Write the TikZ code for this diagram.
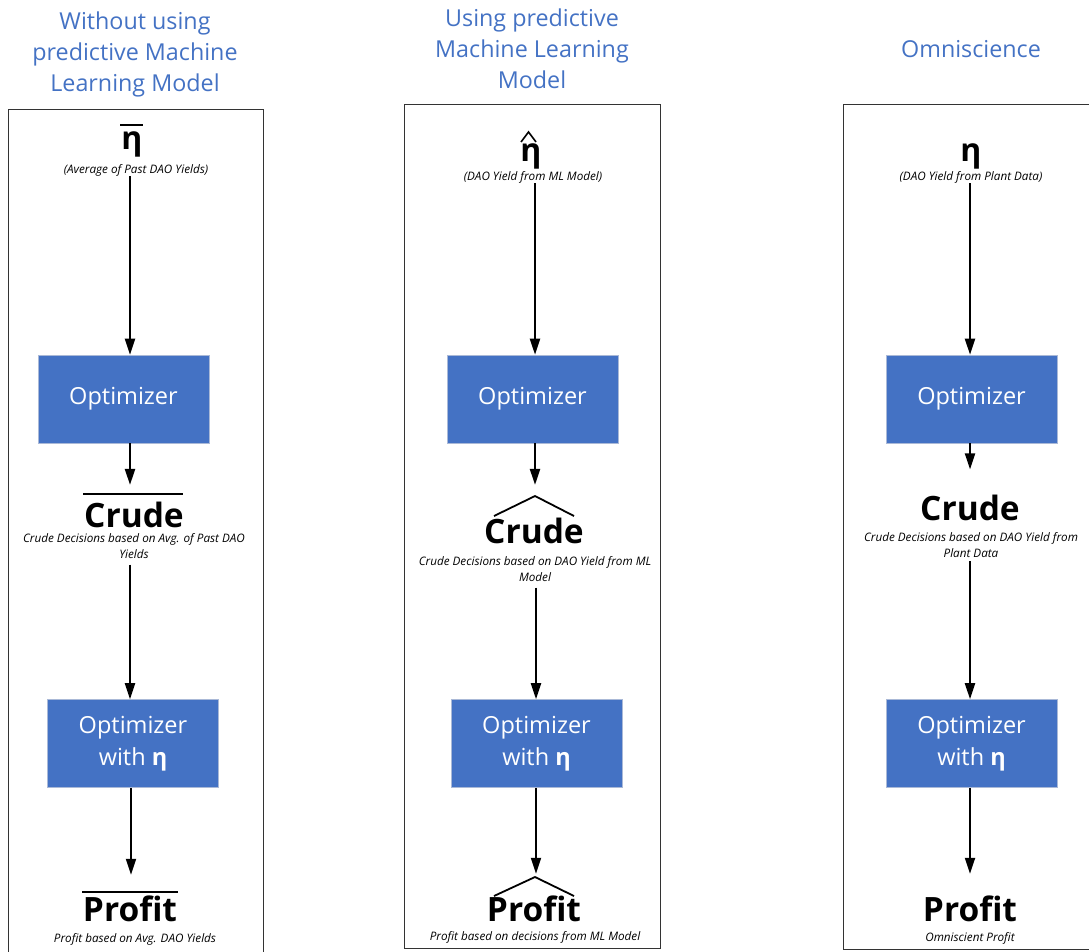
\documentclass[tikz,border=0pt]{standalone}
\usepackage{fontspec}
\setmainfont{Open Sans}
\newfontfamily\osans{Open Sans}
\usetikzlibrary{arrows.meta}
\definecolor{tblue}{HTML}{4472C4}
\definecolor{boxblue}{HTML}{4472C4}
\definecolor{boxedge}{RGB}{170,185,215}
\tikzset{
  frame/.style={draw=black!80, line width=0.9pt},
  ttl/.style={text=tblue, font=\osans\fontsize{23.3}{31}\selectfont, align=center, inner sep=0pt},
  optbox/.style={fill=boxblue, draw=boxedge, line width=0.6pt, minimum width=171pt, minimum height=88pt,
    text=white, font=\osans\fontsize{23.5}{32}\selectfont, align=center, inner sep=0pt},
  sym/.style={font=\osans\bfseries\fontsize{32}{32}\selectfont, inner sep=0pt},
  big/.style={font=\bfseries\fontsize{33.5}{34}\selectfont, inner sep=0pt},
  captxt/.style={font=\itshape\fontsize{11.7}{16}\selectfont, align=center, inner sep=0pt},
  arr/.style={-{Triangle[length=16pt,width=10pt]}, line width=2pt},
  barline/.style={line width=1.8pt},
}
\begin{document}
\begin{tikzpicture}[x=1pt,y=-1pt]
\useasboundingbox (0,0) rectangle (1089,951);
% frames
\draw[frame] (8,109) rectangle (263,960);
\draw[frame] (404,104) rectangle (660,948);
\draw[frame] (843,104) rectangle (1100,949);
% titles
\node[ttl] (t1) at (135,54) {Without using\\predictive Machine\\Learning Model};
\node[ttl] (t2) at (532,49) {Using predictive\\Machine Learning\\Model};
\node[ttl] (t3) at (971,49) {Omniscience};
% column x coordinates
\coordinate (c1) at (130,0);
\coordinate (c1b) at (131,0);
\coordinate (c2) at (535,0);
\coordinate (c2b) at (536,0);
\coordinate (c3) at (970,0);
% ---------- column 1
\node[sym] (eta1) at (132,144) {η};
\draw[barline] (120,125) -- (143,125);
\node[captxt] (cap1a) at (136,170) {(Average of Past DAO Yields)};
\node[optbox] (opt1) at (123.5,399) {Optimizer};
\node[big] (crude1) at (134,515) {Crude};
\draw[barline] (83,494) -- (183,494);
\node[captxt] (cap1b) at (134,546) {Crude Decisions based on Avg. of Past DAO\\Yields};
\node[optbox] (opt1b) at (133,743.5) {Optimizer\\with {\bfseries η}};
\node[big] (profit1) at (130,909) {Profit};
\draw[barline] (82,892) -- (178,892);
\node[captxt] (cap1c) at (135,939) {Profit based on Avg. DAO Yields};
\draw[arr] (cap1a.south -| c1) -- (opt1.north -| c1);
\draw[arr, shorten >=17pt] (opt1.south -| c1) -- (crude1.north -| c1);
\draw[arr, shorten <=6pt] (cap1b.south -| c1) -- (opt1b.north -| c1);
\draw[arr, shorten >=21pt] (opt1b.south -| c1b) -- (profit1.north -| c1b);
% ---------- column 2
\node[sym] (eta2) at (531,156.5) {η};
\draw[line width=1.6pt] (521,142) -- (528.5,132) -- (536,142);
\node[captxt] (cap2a) at (533,177) {(DAO Yield from ML Model)};
\node[optbox] (opt2) at (532.5,399) {Optimizer};
\node[big] (crude2) at (534,531) {Crude};
\draw[barline] (494,516) -- (535,496) -- (574,516);
\node[captxt] (cap2b) at (535,569) {Crude Decisions based on DAO Yield from ML\\Model};
\node[optbox] (opt2b) at (536.5,743.5) {Optimizer\\with {\bfseries η}};
\node[big] (profit2) at (534,909) {Profit};
\draw[barline] (494,896) -- (535,877) -- (574,896);
\node[captxt] (cap2c) at (535,937) {Profit based on decisions from ML Model};
\draw[arr] (cap2a.south -| c2) -- (opt2.north -| c2);
\draw[arr, shorten >=33pt] (opt2.south -| c2) -- (crude2.north -| c2);
\draw[arr, shorten <=6pt] (cap2b.south -| c2b) -- (opt2b.north -| c2b);
\draw[arr, shorten >=22pt] (opt2b.south -| c2b) -- (profit2.north -| c2b);
% ---------- column 3
\node[sym] (eta3) at (971,156.5) {η};
\node[captxt] (cap3a) at (971,177) {(DAO Yield from Plant Data)};
\node[optbox] (opt3) at (971.5,399) {Optimizer};
\node[big] (crude3) at (970,507.5) {Crude};
\node[captxt] (cap3b) at (971,545.5) {Crude Decisions based on DAO Yield from\\Plant Data};
\node[optbox] (opt3b) at (971.5,743.5) {Optimizer\\with {\bfseries η}};
\node[big] (profit3) at (970,909) {Profit};
\node[captxt] (cap3c) at (970,938) {Omniscient Profit};
\draw[arr] (cap3a.south -| c3) -- (opt3.north -| c3);
\draw[arr, shorten >=25pt] (opt3.south -| c3) -- (crude3.north -| c3);
\draw[arr, shorten <=3pt] (cap3b.south -| c3) -- (opt3b.north -| c3);
\draw[arr, shorten >=22pt] (opt3b.south -| c3) -- (profit3.north -| c3);
\end{tikzpicture}
\end{document}
